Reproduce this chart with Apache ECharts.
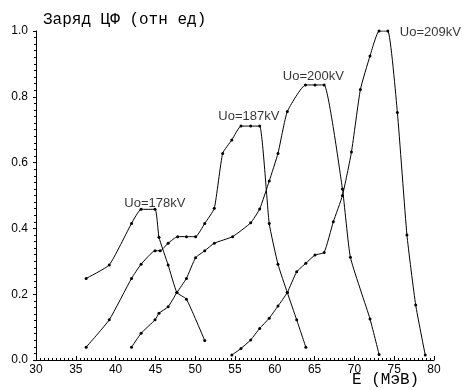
<!DOCTYPE html>
<html><head><meta charset="utf-8">
<script src="https://cdn.jsdelivr.net/npm/echarts@6/dist/echarts.min.js"></script>
<style>html,body{margin:0;padding:0;background:#fff}#c{width:467px;height:390px}</style>
</head><body><div id="c"></div>
<script>
const title = "Заряд ЦФ (отн ед)";
const xName = "E (МэВ)";
const xTicks = [30, 35, 40, 45, 50, 55, 60, 65, 70, 75, 80];
const yTicks = [0.0, 0.2, 0.4, 0.6, 0.8, 1.0];

const s178x = [36.3, 39.2, 42.0, 43.2, 44.95, 45.45, 46.6, 47.7, 48.9, 51.2];
const s178y = [0.248, 0.289, 0.415, 0.458, 0.458, 0.373, 0.289, 0.205, 0.185, 0.059];

const s187x = [36.3, 39.2, 42.0, 43.2, 44.95, 45.6, 46.6, 47.8, 48.9, 50.05, 51.2, 52.4, 53.45, 54.6, 55.75, 56.97, 58.1, 59.3, 60.4, 61.57, 62.75, 63.9];
const s187y = [0.039, 0.122, 0.248, 0.291, 0.332, 0.332, 0.355, 0.375, 0.375, 0.375, 0.415, 0.461, 0.628, 0.669, 0.711, 0.711, 0.711, 0.415, 0.291, 0.205, 0.122, 0.039];

const s200x = [42.0, 43.2, 44.95, 45.45, 46.6, 47.7, 48.9, 50.05, 51.2, 52.4, 54.7, 56.97, 58.1, 59.3, 60.4, 61.57, 63.85, 65.05, 66.2, 68.5, 69.5, 71.96, 73.1];
const s200y = [0.039, 0.081, 0.122, 0.142, 0.162, 0.205, 0.248, 0.311, 0.332, 0.355, 0.375, 0.417, 0.459, 0.544, 0.628, 0.755, 0.836, 0.836, 0.836, 0.52, 0.312, 0.125, 0.017];

const s209x = [54.6, 55.75, 56.97, 58.1, 59.3, 60.4, 61.57, 62.75, 63.9, 65.05, 66.2, 67.35, 68.5, 69.63, 70.75, 71.96, 73.1, 74.2, 75.4, 76.6, 77.7, 78.9];
const s209y = [0.015, 0.035, 0.061, 0.096, 0.127, 0.164, 0.205, 0.268, 0.294, 0.319, 0.327, 0.42, 0.50, 0.632, 0.822, 0.924, 1.0, 1.0, 0.752, 0.38, 0.167, 0.015];

const seriesLabels = ["Uo=178kV", "Uo=187kV", "Uo=200kV", "Uo=209kV"];
const labelX = [41.1, 52.9, 61.0, 75.7];
const labelY = [0.477, 0.739, 0.863, 0.997];

const zip = (xs, ys) => xs.map((x, i) => [x, ys[i]]);
const lineSeries = (xs, ys) => ({
  type: 'line', data: zip(xs, ys), smooth: 0.15,
  symbol: 'circle', symbolSize: 3,
  lineStyle: { color: '#000', width: 1 },
  itemStyle: { color: '#000' },
  silent: true, animation: false
});

const chart = echarts.init(document.getElementById('c'), null, { renderer: 'canvas' });
chart.setOption({
  backgroundColor: '#fff',
  animation: false,
  title: { text: title, left: 38, top: 7, textStyle: { fontFamily: 'Liberation Mono', fontSize: 16, fontWeight: 'normal', color: '#000' } },
  grid: { left: 36, right: 33, top: 31, bottom: 30, containLabel: false },
  xAxis: {
    type: 'value', min: xTicks[0], max: xTicks[xTicks.length - 1], interval: 5,
    axisLine: { lineStyle: { color: '#000', width: 1 } },
    axisTick: { inside: true, length: 4, lineStyle: { color: '#000' } },
    minorTick: { show: true, splitNumber: 10, length: 2, lineStyle: { color: '#000' } },
    splitLine: { show: false },
    axisLabel: { color: '#000', fontFamily: 'Liberation Sans', fontSize: 12, margin: 4 }
  },
  yAxis: {
    type: 'value', min: yTicks[0], max: yTicks[yTicks.length - 1], interval: 0.2,
    axisLine: { show: true, lineStyle: { color: '#000', width: 1 } },
    axisTick: { show: true, inside: false, length: 3, lineStyle: { color: '#000' } },
    minorTick: { show: true, splitNumber: 10, length: 2, lineStyle: { color: '#000' } },
    splitLine: { show: false },
    axisLabel: { color: '#000', fontFamily: 'Liberation Sans', fontSize: 12, margin: 8, formatter: v => v.toFixed(1) }
  },
  graphic: [{ type: 'text', left: 352, top: 372, style: { text: xName, font: '16px "Liberation Mono"', fill: '#000' } }],
  series: [
    lineSeries(s178x, s178y),
    lineSeries(s187x, s187y),
    lineSeries(s200x, s200y),
    lineSeries(s209x, s209y),
    {
      type: 'scatter', symbolSize: 0, silent: true,
      data: labelX.map((x, i) => ({ value: [x, labelY[i]], name: seriesLabels[i] })),
      label: { show: true, position: 'right', distance: 0, formatter: p => p.name, color: '#000', fontFamily: 'Liberation Sans', fontSize: 13 }
    }
  ]
});
</script></body></html>
